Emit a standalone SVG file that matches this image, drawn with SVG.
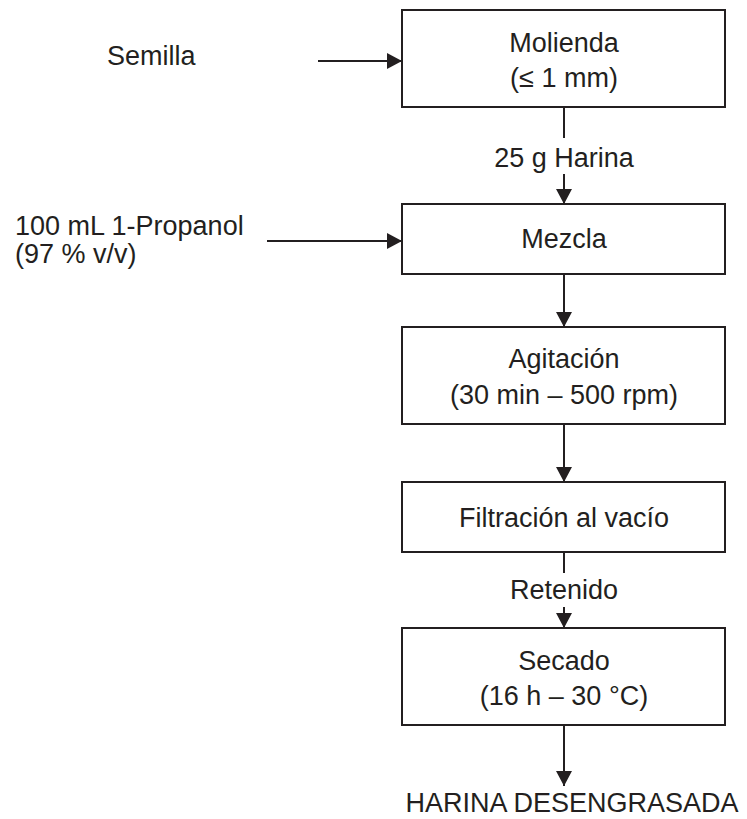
<svg xmlns="http://www.w3.org/2000/svg" width="747" height="819" viewBox="0 0 747 819">
<style>
text{font-family:"Liberation Sans",Arial,sans-serif;font-size:27px;fill:#231f20}
.c{text-anchor:middle}
.box{fill:#fff;stroke:#231f20;stroke-width:2}
.ln{stroke:#231f20;stroke-width:2;fill:none;marker-end:url(#ah)}
.pl{stroke:#231f20;stroke-width:2;fill:none}
</style>
<defs>
<marker id="ah" markerUnits="userSpaceOnUse" markerWidth="16" markerHeight="16" refX="15" refY="8" orient="auto">
<path d="M0,0 L15,8 L0,16 Z" fill="#231f20"/>
</marker>
</defs>
<rect width="747" height="819" fill="#fff"/>
<g id="connectors">
<line class="ln" x1="318" y1="61" x2="402" y2="61"/>
<line class="ln" x1="267" y1="241" x2="402" y2="241"/>
<line class="pl" x1="564" y1="107" x2="564" y2="138"/>
<line class="ln" x1="564" y1="174" x2="564" y2="204"/>
<line class="ln" x1="564" y1="274" x2="564" y2="327"/>
<line class="ln" x1="564" y1="424" x2="564" y2="482"/>
<line class="pl" x1="564" y1="552" x2="564" y2="573"/>
<line class="ln" x1="564" y1="607" x2="564" y2="628"/>
<line class="ln" x1="564" y1="725" x2="564" y2="786"/>
<text class="c" x="564" y="167">25 g Harina</text>
<text class="c" x="564" y="599">Retenido</text>
</g>
<g id="semilla"><text x="107" y="65">Semilla</text></g>
<g id="propanol"><text x="15" y="235">100 mL 1-Propanol</text><text x="15" y="263">(97 % v/v)</text></g>
<g id="molienda"><rect class="box" x="402" y="10" width="323" height="97"/><text class="c" x="564" y="52">Molienda</text><text class="c" x="564" y="87">(≤ 1 mm)</text></g>
<g id="mezcla"><rect class="box" x="402" y="204" width="323" height="70"/><text class="c" x="564" y="248">Mezcla</text></g>
<g id="agitacion"><rect class="box" x="402" y="327" width="323" height="97"/><text class="c" x="564" y="368">Agitación</text><text class="c" x="564" y="404">(30 min – 500 rpm)</text></g>
<g id="filtracion"><rect class="box" x="402" y="482" width="323" height="70"/><text class="c" x="564" y="527">Filtración al vacío</text></g>
<g id="secado"><rect class="box" x="402" y="628" width="323" height="97"/><text class="c" x="564" y="670">Secado</text><text class="c" x="564" y="705">(16 h – 30 °C)</text></g>
<g id="harina"><text class="c" x="572" y="812">HARINA DESENGRASADA</text></g>
</svg>
